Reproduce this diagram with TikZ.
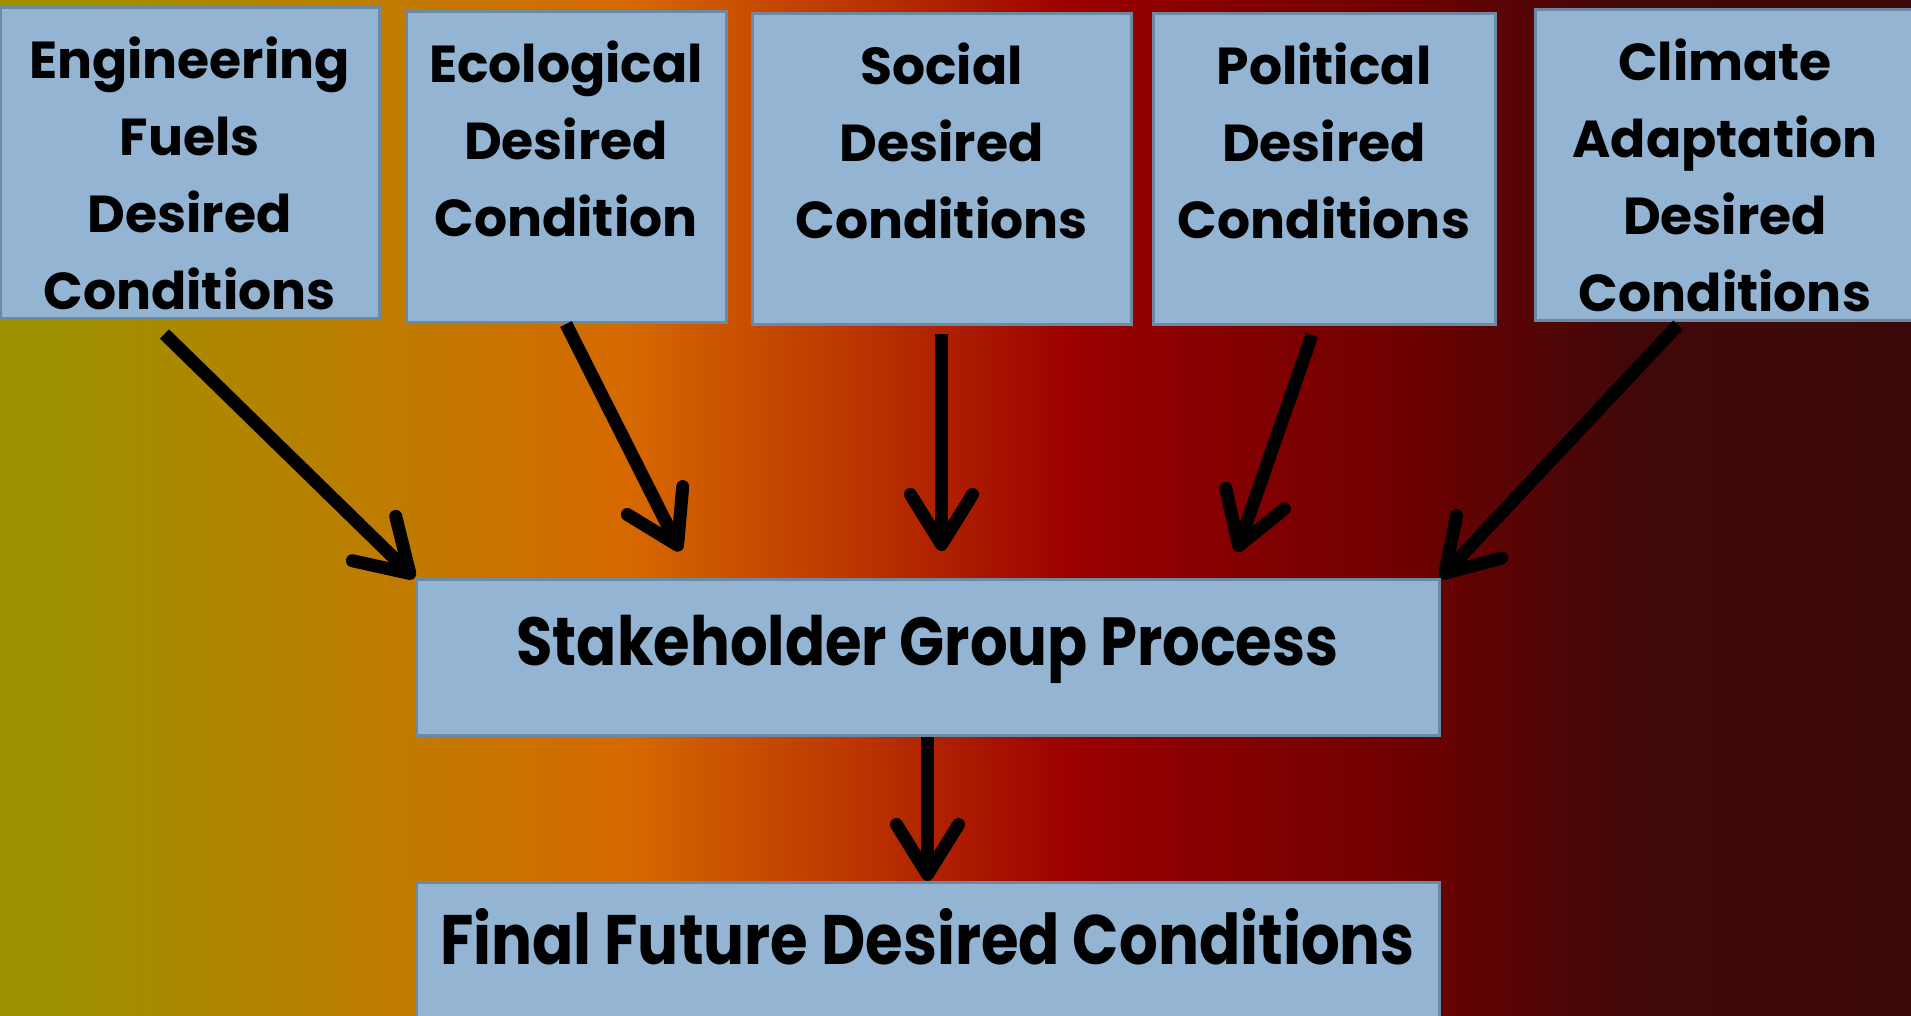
\documentclass[tikz,border=0pt]{standalone}
\usepackage{fontspec}
\newfontfamily\boxfont{Poppins}
\newfontfamily\processfont{Poppins}[FakeStretch=0.87]
\usetikzlibrary{arrows.meta}
\definecolor{bgOlive}{RGB}{158,144,0}
\definecolor{bgGold}{RGB}{190,124,0}
\definecolor{bgOrange}{RGB}{214,104,0}
\definecolor{bgRust}{RGB}{184,48,0}
\definecolor{bgRed}{RGB}{156,0,0}
\definecolor{bgCrimson}{RGB}{138,0,0}
\definecolor{bgMaroon}{RGB}{112,0,0}
\definecolor{bgDark}{RGB}{66,8,8}
\definecolor{bgDarkest}{RGB}{58,8,8}
\definecolor{boxFill}{RGB}{147,180,210}
\definecolor{boxBorder}{RGB}{107,137,163}
% the usable part of a 100bp shading is 25bp to 75bp
\pgfdeclarehorizontalshading{slide background}{100bp}{%
	color(0bp)=(bgOlive); color(26.5bp)=(bgOlive); color(35bp)=(bgGold);
	color(41.5bp)=(bgOrange); color(48bp)=(bgRust); color(53bp)=(bgRed);
	color(56bp)=(bgCrimson); color(61.5bp)=(bgMaroon); color(67.5bp)=(bgDark);
	color(75bp)=(bgDarkest); color(100bp)=(bgDarkest)}
\tikzset{
	desired conditions/.style={
		x=1pt,y=-1pt,
		flow arrow/.style={
			line width=13pt,
			-{Straight Barb[length=50pt,width=62pt,round]}
		}
	},
	condition box/.style={
		draw=boxBorder,
		fill=boxFill,
		line width=3pt,
		anchor=north,
		align=center,
		inner xsep=0pt,
		inner ysep=0pt,
		font=\boxfont\bfseries\fontsize{52}{77}\selectfont
	},
	% baseline of a node with several lines is its last line
	four lines/.style={text height=302pt,text depth=9pt},
	three lines/.style={text height=225pt,text depth=86pt},
	process box/.style={
		condition box,
		minimum width=1023pt,
		text height=86pt,
		text depth=70pt,
		font=\processfont\bfseries\fontsize{68}{84}\selectfont
	}
}

\begin{document}
\begin{tikzpicture}[desired conditions]
	\useasboundingbox (0,0) rectangle (1911,1015);
	\clip (0,0) rectangle (1911,1015);
	\shade[shading=slide background] (0,0) rectangle (1911,1015);
	% inputs
	\node[condition box,four lines,minimum width=379pt] (eng) at (189.5,6) {Engineering\\Fuels\\Desired\\Conditions};
	\node[condition box,three lines,minimum width=320pt] (eco) at (566,10) {Ecological\\Desired\\Condition};
	\node[condition box,three lines,minimum width=379pt] (social) at (941.5,12) {Social\\Desired\\Conditions};
	\node[condition box,three lines,minimum width=342pt] (political) at (1324,12) {Political\\Desired\\Conditions};
	\node[condition box,four lines,minimum width=380pt] (climate) at (1725,8) {Climate\\Adaptation\\Desired\\Conditions};
	% process and result
	\node[process box] (stake) at (927.5,578) {Stakeholder Group Process};
	\node[process box,text height=82pt,text depth=150pt,font=\processfont\bfseries\fontsize{70}{84}\selectfont] (final) at (927.5,881) {Final Future Desired Conditions};
	\draw[flow arrow] ([xshift=-25pt,yshift=-14pt]eng.south) -- (stake.north west);
	\draw[flow arrow] (eco.south) -- ([xshift=266pt,yshift=27pt]stake.north west);
	\draw[flow arrow] ([yshift=-8pt]social.south) -- ([xshift=14pt,yshift=27pt]stake.north);
	\draw[flow arrow] ([xshift=-12pt,yshift=-9pt]political.south) -- ([xshift=-204pt,yshift=26pt]stake.north east);
	\draw[flow arrow] ([xshift=-47pt,yshift=-3pt]climate.south) -- (stake.north east);
	\draw[flow arrow] (stake.south) -- (final.north);
\end{tikzpicture}
\end{document}
